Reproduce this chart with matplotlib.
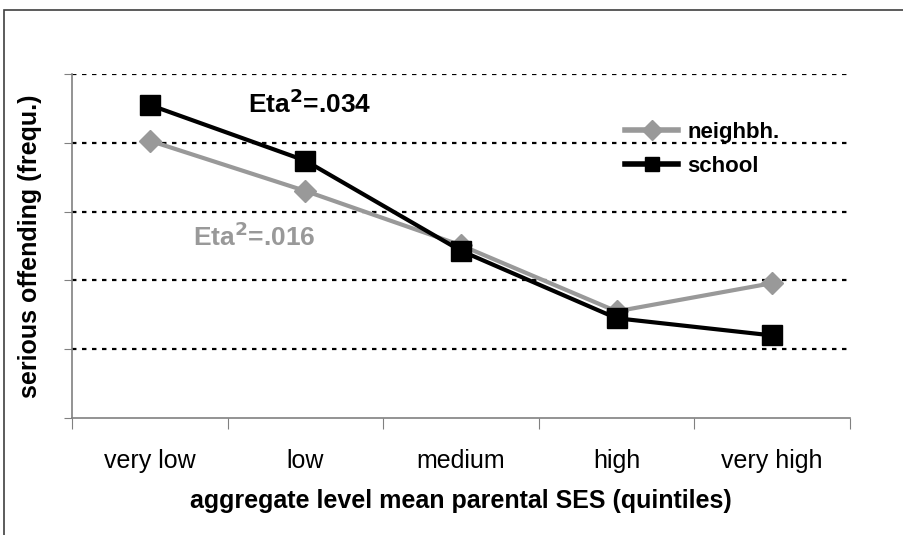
import matplotlib
matplotlib.use('Agg')
import matplotlib.pyplot as plt
from matplotlib.patches import Rectangle
import numpy as np

plt.rcParams['font.family'] = ['Liberation Sans', 'DejaVu Sans']

categories = ['very low', 'low', 'medium', 'high', 'very high']
neighbh = [4.03, 3.30, 2.51, 1.55, 1.96]
school = [4.55, 3.74, 2.43, 1.45, 1.20]
gridvals = [1, 2, 3, 4, 5]

fig = plt.figure(figsize=(9.04, 5.35), dpi=100)
ax = fig.add_axes([0.0796, 0.2187, 0.8607, 0.643])

# outer frame
fig.patches.append(Rectangle((4 / 904, -0.01), 1.0, 1 - 10 / 535 + 0.01,
                             transform=fig.transFigure, fill=False,
                             edgecolor='#404040', linewidth=1.2))

x = np.arange(len(categories))
ax.plot(x, neighbh, color='#999999', lw=3, marker='D', ms=11,
        label='neighbh.', zorder=3)
ax.plot(x, school, color='black', lw=3, marker='s', ms=14,
        label='school', zorder=4)

for g in gridvals:
    ax.axhline(g, color='black', lw=1.6, ls=(0, (2, 2.5)), zorder=1)

ax.set_xlim(-0.5, 4.5)
ax.set_ylim(0, 5)
ax.set_yticks([0] + gridvals)
ax.set_yticklabels([])
ax.set_xticks(np.arange(-0.5, 5, 1))
ax.set_xticklabels([])
ax.set_xticks(x, minor=True)
ax.set_xticklabels(categories, minor=True, fontsize=18)
ax.tick_params(axis='x', which='minor', length=0, pad=22)
ax.tick_params(axis='x', which='major', length=8, color='#808080', direction='out')
ax.tick_params(axis='y', length=6, color='#808080', direction='out')

for s in ['top', 'right']:
    ax.spines[s].set_visible(False)
for s in ['left', 'bottom']:
    ax.spines[s].set_color('#808080')
    ax.spines[s].set_linewidth(1.2)

ax.set_xlabel('aggregate level mean parental SES (quintiles)', fontsize=18,
              fontweight='bold', labelpad=12)
ax.set_ylabel('serious offending (frequ.)', fontsize=18, fontweight='bold',
              labelpad=12)

ax.text(0.63, 4.57, 'Eta$^\\mathbf{2}$=.034', fontsize=19, fontweight='bold',
        color='black', va='center')
ax.text(0.28, 2.63, 'Eta$^\\mathbf{2}$=.016', fontsize=19, fontweight='bold',
        color='#999999', va='center')

leg = ax.legend(loc='upper left', bbox_to_anchor=(0.685, 0.92), frameon=False,
                handlelength=2.4, handletextpad=0.4,
                labelspacing=0.6, prop={'weight': 'bold', 'size': 16})
for h in leg.legend_handles:
    h.set_markersize(10)
    h.set_linewidth(4)

fig.savefig('out.png', dpi=100)
